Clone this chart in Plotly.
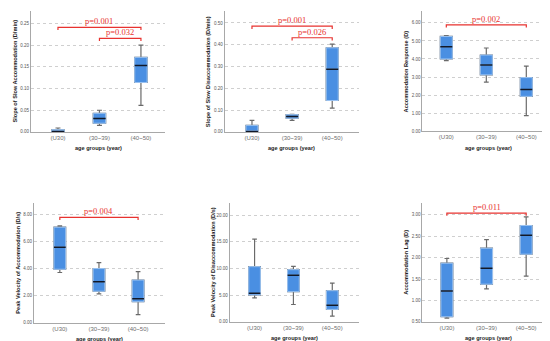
import plotly.graph_objects as go

categories = ["(U30)", "(30~39)", "(40~50)"]

# per-panel box statistics: [U30, 30~39, 40~50]
titles = [
    "Slope of Slow Accommodation (D/min)",
    "Slope of Slow Disaccommodation (D/min)",
    "Accommodation Response (D)",
    "Peak Velocity of Accommodation (D/s)",
    "Peak Velocity of Disaccommodation (D/s)",
    "Accommodation Lag (D)",
]
mins = [
    [0.000, 0.015, 0.061],
    [0.000, 0.053, 0.109],
    [3.91, 2.72, 0.86],
    [3.71, 2.12, 0.59],
    [4.49, 3.26, 1.10],
    [0.59, 1.27, 1.57],
]
q1s = [
    [0.000, 0.020, 0.114],
    [0.000, 0.063, 0.144],
    [4.00, 3.12, 1.93],
    [3.95, 2.32, 1.54],
    [5.05, 5.66, 2.34],
    [0.62, 1.38, 2.08],
]
medians = [
    [0.001, 0.031, 0.153],
    [0.002, 0.071, 0.288],
    [4.68, 3.67, 2.31],
    [5.59, 3.02, 1.76],
    [5.35, 8.74, 3.14],
    [1.22, 1.75, 2.52],
]
q3s = [
    [0.005, 0.043, 0.172],
    [0.030, 0.079, 0.386],
    [5.25, 4.22, 2.97],
    [7.07, 4.00, 3.15],
    [10.34, 9.78, 5.85],
    [1.87, 2.22, 2.75],
]
maxs = [
    [0.009, 0.050, 0.200],
    [0.053, 0.081, 0.403],
    [5.30, 4.61, 3.61],
    [7.17, 4.44, 3.78],
    [15.5, 10.4, 7.26],
    [1.98, 2.42, 2.95],
]

# significance brackets: (panel, from-category index, to-category index, y level, label)
bracket_panel = [0, 0, 1, 1, 2, 3, 5]
bracket_from = [0, 1, 0, 1, 0, 0, 0]
bracket_to = [2, 2, 2, 2, 2, 2, 2]
bracket_y = [0.241, 0.216, 0.485, 0.432, 5.89, 7.80, 3.04]
bracket_text = ["p=0.001", "p=0.032", "p=0.001", "p=0.026", "p=0.002", "p=0.004", "p=0.011"]

# layout (pixel geometry of each panel)
W, H = 550, 341
px_x = [(23, 157), (216.7, 350.7), (414.3, 546.7), (26, 156.7), (221.7, 350.7), (414.3, 546.7)]
px_y = [(3, 125), (3, 125), (3, 124.3), (196.5, 317.3), (196.5, 316.7), (196.5, 316.7)]
xranges = [(-0.65, 2.58), (-0.68, 2.66), (-0.6, 2.71), (-0.66, 2.68), (-0.64, 2.68), (-0.62, 2.72)]
yranges = [(0, 0.279), (0, 0.555), (0, 6.66), (0, 8.88), (0, 22.3), (0.5, 3.28)]
dticks = [0.05, 0.1, 1, 2, 5, 0.5]

BOX_FILL = "#4a8fe2"
BOX_LINE = "#9cc4f2"
WHISK = "#6a6a6a"
MED = "#111827"
RED = "#e8322f"

fig = go.Figure()
layout = {}
annotations = []
shapes = []

for i in range(6):
    sfx = "" if i == 0 else str(i + 1)
    xa, ya = "x" + sfx, "y" + sfx
    xpos = [0, 1, 2]
    # whiskers (gray)
    fig.add_trace(go.Box(
        x=xpos, q1=q1s[i], median=medians[i], q3=q3s[i],
        lowerfence=mins[i], upperfence=maxs[i],
        xaxis=xa, yaxis=ya, width=0.3, whiskerwidth=0.4,
        line=dict(color=WHISK, width=1.2), fillcolor="rgba(0,0,0,0)",
        showlegend=False, hoverinfo="skip"))
    # blue box
    fig.add_trace(go.Box(
        x=xpos, q1=q1s[i], median=medians[i], q3=q3s[i],
        lowerfence=q1s[i], upperfence=q3s[i],
        xaxis=xa, yaxis=ya, width=0.3, whiskerwidth=0,
        line=dict(color=BOX_LINE, width=1), fillcolor=BOX_FILL,
        showlegend=False, hoverinfo="skip"))
    # median line
    fig.add_trace(go.Box(
        x=xpos, q1=medians[i], median=medians[i], q3=medians[i],
        lowerfence=medians[i], upperfence=medians[i],
        xaxis=xa, yaxis=ya, width=0.3, whiskerwidth=0,
        line=dict(color=MED, width=1.5), fillcolor="rgba(0,0,0,0)",
        showlegend=False, hoverinfo="skip"))

    x0, x1 = px_x[i][0] / W, px_x[i][1] / W
    y0, y1 = 1 - px_y[i][1] / H, 1 - px_y[i][0] / H
    kx = "xaxis" + sfx
    ky = "yaxis" + sfx
    layout[kx] = dict(
        domain=[x0, x1], anchor=ya, range=list(xranges[i]),
        tickmode="array", tickvals=[0, 1, 2], ticktext=categories,
        showline=True, linecolor="#a8a8a8", linewidth=1, showgrid=False,
        zeroline=False, ticks="", tickfont=dict(size=6, color="#6e6e6e", family="Liberation Sans"),
    )
    layout[ky] = dict(
        domain=[y0, y1], anchor=xa, range=list(yranges[i]),
        dtick=dticks[i], tick0=0, tickformat=".2f",
        showline=True, linecolor="#a8a8a8", linewidth=1,
        showgrid=True, gridcolor="#cfcfcf", griddash="dot", gridwidth=1,
        zeroline=False, ticks="", tickfont=dict(size=4.5, color="#555555", family="Liberation Sans"),
    )
    # axis titles
    annotations.append(dict(
        text="<b>" + titles[i] + "</b>", xref="paper", yref="paper",
        x=(px_x[i][0] - 16) / W, y=(y0 + y1) / 2, textangle=-90,
        showarrow=False, xanchor="center", yanchor="middle",
        font=dict(size=5.6, color="#222222", family="Liberation Sans")))
    annotations.append(dict(
        text="<b>age groups (year)</b>", xref="paper", yref="paper",
        x=(x0 + x1) / 2, y=1 - (px_y[i][1] + 16.7) / H,
        showarrow=False, xanchor="center", yanchor="middle",
        font=dict(size=5.6, color="#222222", family="Liberation Sans")))

for j in range(len(bracket_y)):
    i = bracket_panel[j]
    sfx = "" if i == 0 else str(i + 1)
    xa, ya = "x" + sfx, "y" + sfx
    yb = bracket_y[j]
    drop = (yranges[i][1] - yranges[i][0]) * 0.022
    a, b = bracket_from[j], bracket_to[j]
    shapes.append(dict(
        type="path", xref=xa, yref=ya,
        path=f"M {a},{yb - drop} L {a},{yb} L {b},{yb} L {b},{yb - drop}",
        line=dict(color=RED, width=1.2)))
    annotations.append(dict(
        text=bracket_text[j], xref=xa, yref=ya, x=(a + b) / 2, y=yb,
        showarrow=False, xanchor="center", yanchor="bottom", yshift=-1,
        font=dict(size=8.5, color=RED, family="Liberation Serif")))

fig.update_layout(
    width=W, height=H, margin=dict(l=0, r=0, t=0, b=0),
    paper_bgcolor="white", plot_bgcolor="white",
    boxmode="overlay", annotations=annotations, shapes=shapes,
    **layout)

fig.write_html("out.html")
